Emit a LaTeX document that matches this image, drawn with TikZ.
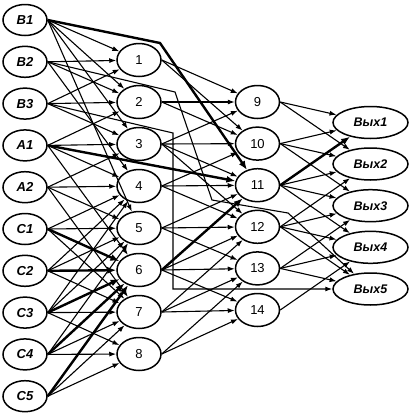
\documentclass[tikz,border=0pt]{standalone}
\usepackage{fontspec}
\setmainfont{Liberation Sans}
\usetikzlibrary{shapes.geometric,arrows.meta}
\begin{document}
\begin{tikzpicture}[x=1pt,y=-1pt,
  nd/.style={ellipse,draw,line width=1.5pt,inner sep=0pt},
  inp/.style={nd,minimum width=44pt,minimum height=31pt,font=\fontsize{13}{13}\selectfont\bfseries\itshape},
  hid/.style={nd,minimum width=44pt,minimum height=33pt,font=\fontsize{13}{13}\selectfont},
  outp/.style={nd,minimum width=75pt,minimum height=32pt,font=\fontsize{12.5}{12.5}\selectfont\bfseries\itshape},
  conn/.style={line width=1.1pt,-{Latex[length=7pt,width=5pt]}},
  boldconn/.style={line width=2.4pt,-{Latex[length=9pt,width=7pt]}}]
\useasboundingbox (0,0) rectangle (410,413);
% inputs
\foreach \n/\t/\y in {b1/B1/20,b2/B2/61.8,b3/B3/103.6,a1/A1/145.4,a2/A2/187.2,c1/C1/229,c2/C2/270.8,c3/C3/312.6,c4/C4/354.4,c5/C5/396.2}
  \node[inp] (\n) at (25,\y) {\t};
% first hidden layer
\foreach \i/\y in {1/60,2/102,3/144,4/186,5/228,6/270,7/312,8/354}
  \node[hid] (h\i) at (139,\y) {\i};
% second hidden layer
\foreach \i/\y in {9/102,10/143.6,11/185.2,12/226.8,13/268.4,14/310}
  \node[hid] (g\i) at (257.5,\y) {\i};
% outputs
\foreach \i/\y in {1/122.5,2/164,3/205.7,4/247.3,5/289}
  \node[outp] (o\i) at (370.5,\y) {Вых\i};
% bend points
\coordinate (k1) at (160,43);
\coordinate (k2) at (175,92);
\coordinate (k3) at (212,200);
\coordinate (k4) at (288,213);
\coordinate (k5) at (173,133);
\coordinate (k6) at (173,289);
% inputs -> first hidden layer
\foreach \s/\t in {b1/h1,b1/h2,b1/h3,b1/h5,
                   b2/h1,b2/h2,b2/h4,
                   b3/h1,b3/h2,b3/h3,
                   a1/h2,a1/h3,a1/h4,a1/h6,
                   a2/h3,a2/h4,a2/h5,a2/h7,
                   c1/h4,c1/h5,c1/h7,
                   c2/h4,c2/h5,c2/h7,
                   c3/h4,c3/h5,c3/h7,c3/h8,
                   c4/h5,c4/h7,c4/h8,
                   c5/h7,c5/h8}
  \draw[conn] (\s.east) -- (\t);
% first -> second hidden layer
\foreach \s/\t in {h1/g9,h1/g10,
                   h2/g9,h2/g10,
                   h3/g9,h3/g10,h3/g11,h3/g12,
                   h4/g10,h4/g11,h4/g12,
                   h5/g11,h5/g12,h5/g13,
                   h6/g12,h6/g13,h6/g14,
                   h7/g12,h7/g13,h7/g14,
                   h8/g13,h8/g14}
  \draw[conn] (\s.east) -- (\t);
% second hidden -> outputs
\foreach \s/\t in {g9/o1,g9/o2,
                   g10/o1,g10/o2,g10/o3,
                   g11/o2,g11/o3,g11/o4,
                   g12/o2,g12/o3,g12/o4,g12/o5,
                   g13/o3,g13/o4,g13/o5,
                   g14/o4}
  \draw[conn] (\s.east) -- (\t);
% skip connections
\draw[conn] (b2.east) -- (k2) -- (k3) -- (k4) -- (o5);
\draw[conn] (b3.east) -- (k5) -- (k6) -- (o5.west);
% bold path
\draw[boldconn] (b1.east) -- (k1) -- (g11);
\foreach \s/\t in {a1/g11,c1/h6,c2/h6,c3/h6,c4/h6,c5/h6,h6/g11,g11/o1}
  \draw[boldconn] (\s.east) -- (\t);
\end{tikzpicture}
\end{document}
